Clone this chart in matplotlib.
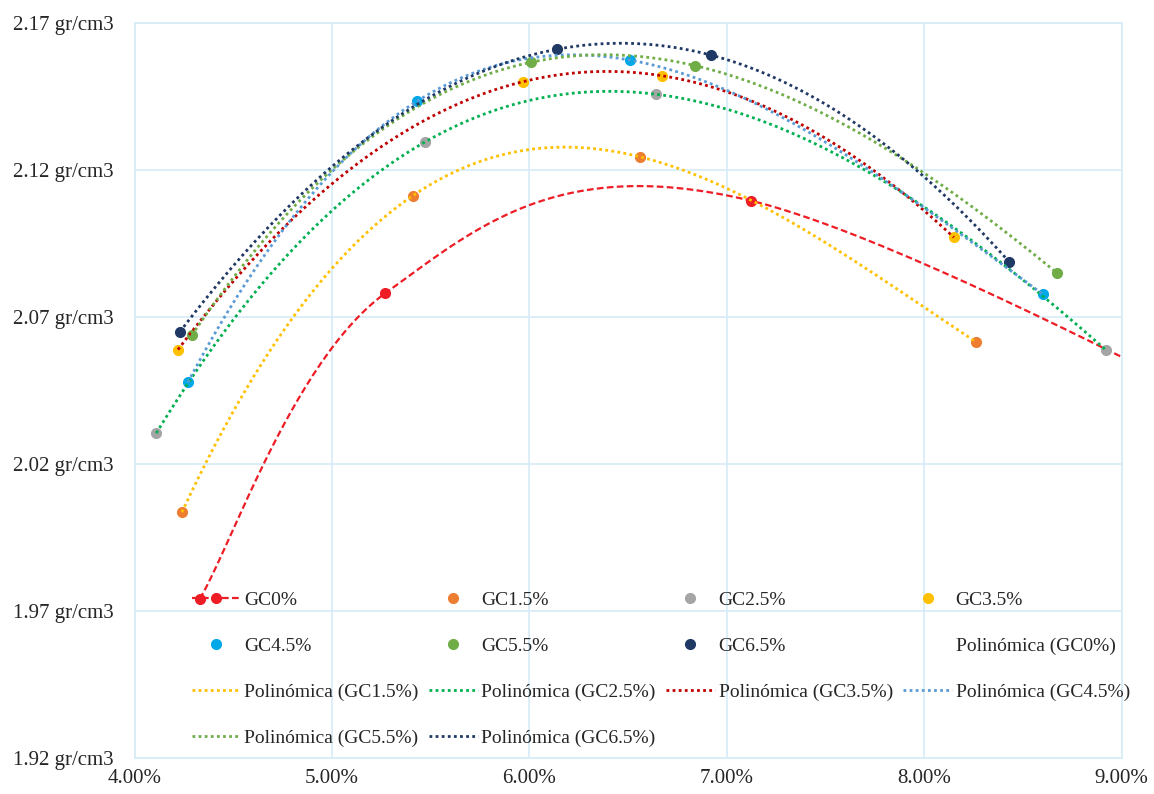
import numpy as np
import matplotlib.pyplot as plt
from matplotlib.ticker import FuncFormatter, MultipleLocator, FixedLocator

plt.rcParams['font.family'] = ['Liberation Serif', 'DejaVu Serif']

# Humedad (%) y densidad seca (gr/cm3) por porcentaje de GC
hum_gc0 = [4.33, 5.27, 7.12, 11.1]
den_gc0 = [1.974, 2.078, 2.1095, 1.984]
hum_gc15 = [4.24, 5.41, 6.56, 8.26]
den_gc15 = [2.0035, 2.1112, 2.1244, 2.0615]
hum_gc25 = [4.11, 5.47, 6.64, 8.92]
den_gc25 = [2.0304, 2.1294, 2.1457, 2.0587]
hum_gc35 = [4.22, 5.97, 6.67, 8.15]
den_gc35 = [2.0588, 2.150, 2.152, 2.097]
hum_gc45 = [4.27, 5.43, 6.51, 8.60]
den_gc45 = [2.0477, 2.1433, 2.1573, 2.0777]
hum_gc55 = [4.29, 6.01, 6.84, 8.67]
den_gc55 = [2.0637, 2.1566, 2.1554, 2.085]
hum_gc65 = [4.23, 6.14, 6.92, 8.43]
den_gc65 = [2.0649, 2.161, 2.159, 2.0887]

nombres = ['GC0%', 'GC1.5%', 'GC2.5%', 'GC3.5%', 'GC4.5%', 'GC5.5%', 'GC6.5%']
humedades = [hum_gc0, hum_gc15, hum_gc25, hum_gc35, hum_gc45, hum_gc55, hum_gc65]
densidades = [den_gc0, den_gc15, den_gc25, den_gc35, den_gc45, den_gc55, den_gc65]
colores = ['#EE1C25', '#ED7D31', '#A5A5A5', '#FFC000', '#00A8E8', '#70AD47', '#1F3864']
colores_tend = ['#EE1C25', '#FFC000', '#00B050', '#C00000', '#5B9BD5', '#70AD47', '#203864']
yticks = [1.92, 1.97, 2.02, 2.07, 2.12, 2.17]


# linea suavizada tipo Excel (bezier con vecinos)
def suavizar(x, y, n=60):
    P = np.column_stack([x, y]).astype(float)
    Pp = np.vstack([P[0], P, P[-1]])
    t = np.linspace(0, 1, n)[:, None]
    curva = []
    for i in range(len(P) - 1):
        p0 = Pp[i + 1]
        p3 = Pp[i + 2]
        c1 = p0 + (Pp[i + 2] - Pp[i]) / 6
        c2 = p3 - (Pp[i + 3] - Pp[i + 1]) / 6
        b = (1 - t)**3 * p0 + 3 * (1 - t)**2 * t * c1 + 3 * (1 - t) * t**2 * c2 + t**3 * p3
        curva.append(b)
    curva = np.vstack(curva)
    return curva[:, 0], curva[:, 1]


fig, ax = plt.subplots(figsize=(11.54, 7.94), dpi=100)
fig.subplots_adjust(left=0.1166, right=0.972, top=0.9713, bottom=0.0458)

guion = (0, (3, 1.5))
handles = []
# series
for i in range(7):
    if i == 0:
        xs, ys = suavizar(humedades[i], densidades[i])
        ax.plot(xs, ys, color=colores[i], linestyle=guion, linewidth=1.6, zorder=3)
        ax.plot(humedades[i], densidades[i], linestyle='none', marker='o', markersize=7,
                color=colores[i], zorder=3)
        h, = ax.plot([], [], color=colores[i], linestyle=guion, linewidth=1.6,
                     marker='o', markersize=7, label=nombres[i])
    else:
        h, = ax.plot(humedades[i], densidades[i], linestyle='none', marker='o', markersize=7,
                     color=colores[i], label=nombres[i], zorder=3)
    handles.append(h)

# lineas de tendencia polinomicas
for i in range(7):
    coef = np.polyfit(humedades[i], densidades[i], 3)
    xt = np.linspace(min(humedades[i]), max(humedades[i]), 200)
    if i == 0:
        h, = ax.plot(xt, np.polyval(coef, xt), linestyle='none', label='Polinómica (' + nombres[i] + ')')
    else:
        h, = ax.plot(xt, np.polyval(coef, xt), color=colores_tend[i], linestyle=(0, (1, 1.2)),
                     linewidth=2.0, label='Polinómica (' + nombres[i] + ')', zorder=4)
    handles.append(h)

ax.set_xlim(4, 9)
ax.set_ylim(1.92, 2.17)
ax.xaxis.set_major_locator(MultipleLocator(1))
ax.yaxis.set_major_locator(FixedLocator(yticks))
ax.xaxis.set_major_formatter(FuncFormatter(lambda v, p: f'{v:.2f}%'))
ax.yaxis.set_major_formatter(FuncFormatter(lambda v, p: f'{v:.2f} gr/cm3'))
ax.grid(True, color='#D6ECF7', linewidth=1.2)
ax.set_axisbelow(True)
for s in ax.spines.values():
    s.set_color('#D6ECF7')
    s.set_linewidth(1.2)
ax.tick_params(length=0, labelsize=15, colors='#262626')
ax.tick_params(axis='y', pad=14.8)
ax.tick_params(axis='x', pad=8)

orden = [0, 4, 8, 12, 1, 5, 9, 13, 2, 6, 10, 3, 7, 11]
ax.legend([handles[k] for k in orden], [handles[k].get_label() for k in orden],
          ncol=4, loc='upper left', bbox_to_anchor=(0.058, 0.226), frameon=False,
          fontsize=14, handlelength=2.5, handletextpad=0.2, columnspacing=0.53,
          labelspacing=1.45, borderpad=0, borderaxespad=0, labelcolor='#262626')

plt.savefig('out.png', dpi=100)
